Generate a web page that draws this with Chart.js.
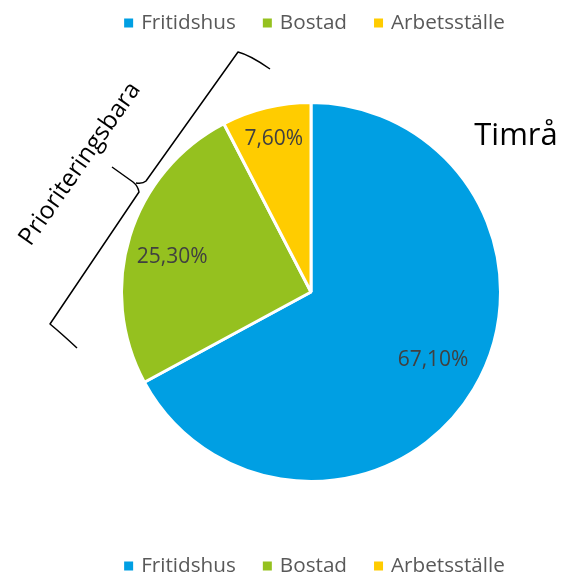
<!DOCTYPE html>
<html>
<head>
<meta charset="utf-8">
<script src="https://cdn.jsdelivr.net/npm/chart.js@4.4.1/dist/chart.umd.min.js"></script>
<style>
  html, body { margin: 0; padding: 0; background: #fff; }
  #wrap { width: 567px; height: 576px; position: relative; }
</style>
</head>
<body>
<div id="wrap"><canvas id="pie"></canvas></div>
<script>
const categories = ['Fritidshus', 'Bostad', 'Arbetsställe'];
const shares = [67.1, 25.3, 7.6];
const sliceColors = ['#009FE3', '#95C11F', '#FFCC00'];
const chartTitle = 'Timrå';
const braceLabel = 'Prioriteringsbara';

const FONT = "'Open Sans', 'Noto Sans', sans-serif";

// where each percentage label sits: fraction of radius, and turn from mid-angle (deg)
const labelRadius = [0.737, 0.755, 0.83];
const labelTurn = [-1.7, -3, 0];

function drawLegend(ctx, cy) {
  ctx.save();
  ctx.font = '20.7px ' + FONT;
  ctx.textBaseline = 'middle';
  ctx.textAlign = 'left';
  const box = 9, gapText = 8, gapItem = 27;
  const widths = categories.map(c => ctx.measureText(c).width);
  let total = 0;
  widths.forEach((w, i) => { total += box + gapText + w + (i < widths.length - 1 ? gapItem : 0); });
  let x = 314.5 - total / 2;
  categories.forEach((c, i) => {
    ctx.fillStyle = sliceColors[i];
    ctx.fillRect(x, cy - box / 2, box, box);
    ctx.fillStyle = '#595959';
    ctx.fillText(c, x + box + gapText, cy);
    x += box + gapText + widths[i] + gapItem;
  });
  ctx.restore();
}

const extrasPlugin = {
  id: 'extras',
  afterDraw(chart) {
    const ctx = chart.ctx;
    const meta = chart.getDatasetMeta(0);

    // percentage labels
    ctx.save();
    ctx.font = '21px ' + FONT;
    ctx.fillStyle = '#404040';
    ctx.textAlign = 'center';
    ctx.textBaseline = 'middle';
    meta.data.forEach((arc, i) => {
      const p = arc.getProps(['x', 'y', 'startAngle', 'endAngle', 'outerRadius']);
      const mid = (p.startAngle + p.endAngle) / 2 + labelTurn[i] * Math.PI / 180;
      const r = p.outerRadius * labelRadius[i];
      const txt = shares[i].toFixed(2).replace('.', ',') + '%';
      ctx.fillText(txt, p.x + Math.cos(mid) * r, p.y + Math.sin(mid) * r);
    });
    ctx.restore();

    // title on the right
    ctx.save();
    ctx.font = '31px ' + FONT;
    ctx.fillStyle = '#000';
    ctx.textAlign = 'center';
    ctx.textBaseline = 'middle';
    ctx.fillText(chartTitle, 516, 136);
    ctx.restore();

    // brace around the green + yellow slices
    ctx.save();
    ctx.strokeStyle = '#000';
    ctx.lineWidth = 1.5;
    ctx.lineJoin = 'round';
    ctx.beginPath();
    ctx.moveTo(270, 69);
    ctx.quadraticCurveTo(250, 55, 238, 52);
    ctx.lineTo(146, 181);
    ctx.quadraticCurveTo(143, 184, 136, 183);
    ctx.moveTo(112, 167);
    ctx.lineTo(133, 182);
    ctx.quadraticCurveTo(138, 186, 139, 192);
    ctx.lineTo(50, 324);
    ctx.quadraticCurveTo(62, 334, 77, 348);
    ctx.stroke();
    ctx.restore();

    // rotated label
    ctx.save();
    ctx.translate(80, 164);
    ctx.rotate(-55 * Math.PI / 180);
    ctx.font = '24.5px ' + FONT;
    ctx.fillStyle = '#000';
    ctx.textAlign = 'center';
    ctx.textBaseline = 'middle';
    ctx.fillText(braceLabel, 0, 0);
    ctx.restore();

    drawLegend(ctx, 23);
    drawLegend(ctx, 566);
  }
};

new Chart(document.getElementById('pie'), {
  type: 'pie',
  data: {
    labels: categories,
    datasets: [{
      data: shares,
      backgroundColor: sliceColors,
      borderColor: '#ffffff',
      borderWidth: 3
    }]
  },
  options: {
    responsive: true,
    maintainAspectRatio: false,
    animation: false,
    layout: { padding: { left: 120, right: 65, top: 101, bottom: 93 } },
    plugins: {
      legend: { display: false },
      tooltip: { enabled: false }
    }
  },
  plugins: [extrasPlugin]
});
</script>
</body>
</html>
